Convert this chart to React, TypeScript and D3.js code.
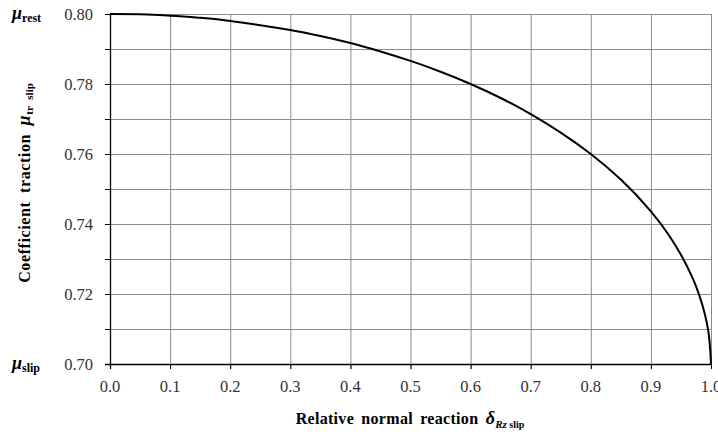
import React, {useEffect, useRef} from 'react';
import * as d3 from 'd3';

// values
const slipValues = [0, 0.05, 0.1, 0.15, 0.2, 0.25, 0.3, 0.35, 0.4, 0.45, 0.5, 0.55, 0.6, 0.65, 0.7, 0.75, 0.8, 0.85, 0.9, 0.93, 0.95, 0.97, 0.98, 0.99, 0.995, 1.0];
const tractionValues = [0.8, 0.7999, 0.7995, 0.7989, 0.798, 0.7968, 0.7954, 0.7937, 0.7917, 0.7893, 0.7866, 0.7835, 0.78, 0.776, 0.7714, 0.7661, 0.76, 0.7527, 0.7436, 0.7368, 0.7312, 0.7243, 0.7199, 0.7141, 0.71, 0.7];
const xTicks = [0, 0.1, 0.2, 0.3, 0.4, 0.5, 0.6, 0.7, 0.8, 0.9, 1.0];
const yGrid = [0.7, 0.71, 0.72, 0.73, 0.74, 0.75, 0.76, 0.77, 0.78, 0.79, 0.8];
const yLabels = [0.7, 0.72, 0.74, 0.76, 0.78, 0.8];

const W = 718;
const H = 435;
const FONT = '"Liberation Serif", "Times New Roman", serif';

export default function App() {
  const svgRef = useRef<SVGSVGElement>(null);

  useEffect(() => {
    if (!svgRef.current) return;
    const svg = d3.select(svgRef.current);
    svg.selectAll('*').remove();

    const margin = {top: 14, right: 7, bottom: 71, left: 110};
    const width = W - margin.left - margin.right;
    const height = H - margin.top - margin.bottom;

    const g = svg
      .append('g')
      .attr('transform', `translate(${margin.left},${margin.top})`);

    const x = d3.scaleLinear().domain([0, 1]).range([0, width]);
    const y = d3.scaleLinear().domain([0.7, 0.8]).range([height, 0]);

    // grid
    g.append('g')
      .selectAll('line')
      .data(yGrid)
      .enter()
      .append('line')
      .attr('x1', -5)
      .attr('x2', width)
      .attr('y1', (d) => y(d) + 0.5)
      .attr('y2', (d) => y(d) + 0.5)
      .attr('stroke', '#8c8c8c')
      .attr('stroke-width', 1);

    g.append('g')
      .selectAll('line')
      .data(xTicks)
      .enter()
      .append('line')
      .attr('x1', (d) => x(d) + 0.5)
      .attr('x2', (d) => x(d) + 0.5)
      .attr('y1', 0)
      .attr('y2', height + 5)
      .attr('stroke', '#8c8c8c')
      .attr('stroke-width', 1);

    // axes lines
    g.append('line')
      .attr('x1', 0.5).attr('x2', 0.5)
      .attr('y1', 0).attr('y2', height + 5)
      .attr('stroke', '#000').attr('stroke-width', 1.3);
    g.append('line')
      .attr('x1', -5).attr('x2', width)
      .attr('y1', height + 0.5).attr('y2', height + 0.5)
      .attr('stroke', '#000').attr('stroke-width', 1.3);
    // tick marks on axes
    g.append('g')
      .selectAll('line')
      .data(yGrid)
      .enter()
      .append('line')
      .attr('x1', -5).attr('x2', 0)
      .attr('y1', (d) => y(d) + 0.5).attr('y2', (d) => y(d) + 0.5)
      .attr('stroke', '#000');
    g.append('g')
      .selectAll('line')
      .data(xTicks)
      .enter()
      .append('line')
      .attr('x1', (d) => x(d) + 0.5).attr('x2', (d) => x(d) + 0.5)
      .attr('y1', height).attr('y2', height + 5)
      .attr('stroke', '#000');

    // tick labels
    g.append('g')
      .selectAll('text')
      .data(yLabels)
      .enter()
      .append('text')
      .attr('x', -17)
      .attr('y', (d) => y(d) + 5.5)
      .attr('text-anchor', 'end')
      .attr('font-family', FONT)
      .attr('font-size', 16.5)
      .attr('fill', '#333')
      .text((d) => d3.format('.2f')(d));

    g.append('g')
      .selectAll('text')
      .data(xTicks)
      .enter()
      .append('text')
      .attr('x', (d) => x(d))
      .attr('y', height + 28)
      .attr('text-anchor', 'middle')
      .attr('font-family', FONT)
      .attr('font-size', 16.5)
      .attr('fill', '#333')
      .text((d) => d3.format('.1f')(d));

    // curve
    const pts = slipValues.map((s, i) => [s, tractionValues[i]] as [number, number]);
    const line = d3
      .line<[number, number]>()
      .x((d) => x(d[0]))
      .y((d) => y(d[1]))
      .curve(d3.curveMonotoneY);
    g.append('path')
      .datum(pts)
      .attr('d', line)
      .attr('fill', 'none')
      .attr('stroke', '#000')
      .attr('stroke-width', 2);

    // mu labels
    const mu = (yy: number, sub: string) => {
      const t = svg
        .append('text')
        .attr('x', 12)
        .attr('y', yy)
        .attr('font-family', FONT)
        .attr('font-weight', 'bold')
        .attr('fill', '#000');
      t.append('tspan').attr('font-style', 'italic').attr('font-size', 18).text('μ');
      t.append('tspan').attr('font-size', 12).attr('dy', 3).text(sub);
    };
    mu(margin.top + 5, 'rest');
    mu(margin.top + height + 5, 'slip');

    // y title
    const yt = svg
      .append('text')
      .attr('transform', `translate(30,183) rotate(-90)`)
      .attr('text-anchor', 'middle')
      .attr('font-family', FONT)
      .attr('font-weight', 'bold')
      .attr('font-size', 16)
      .attr('word-spacing', 4)
      .attr('letter-spacing', 0.6)
      .attr('fill', '#000');
    yt.append('tspan').text('Coefficient traction ');
    yt.append('tspan').attr('font-style', 'italic').attr('font-size', 18).text('μ');
    yt.append('tspan').attr('font-size', 11).attr('dy', 3).attr('letter-spacing', 0).text('tr slip');

    // x title
    const xt = svg
      .append('text')
      .attr('x', 410)
      .attr('y', 424)
      .attr('text-anchor', 'middle')
      .attr('font-family', FONT)
      .attr('font-weight', 'bold')
      .attr('font-size', 16)
      .attr('word-spacing', 3)
      .attr('letter-spacing', 0.3)
      .attr('fill', '#000');
    xt.append('tspan').text('Relative normal reaction ');
    xt.append('tspan').attr('font-style', 'italic').attr('font-size', 18).text('δ');
    xt.append('tspan').attr('font-style', 'italic').attr('font-size', 11).attr('dy', 4).attr('letter-spacing', 0).text('Rz');
    xt.append('tspan').attr('font-size', 10).attr('letter-spacing', 0).attr('word-spacing', 0).text(' slip');
  }, []);

  return (
    <svg
      ref={svgRef}
      width={W}
      height={H}
      style={{position: 'absolute', left: 0, top: 0, background: '#fff'}}
    />
  );
}
